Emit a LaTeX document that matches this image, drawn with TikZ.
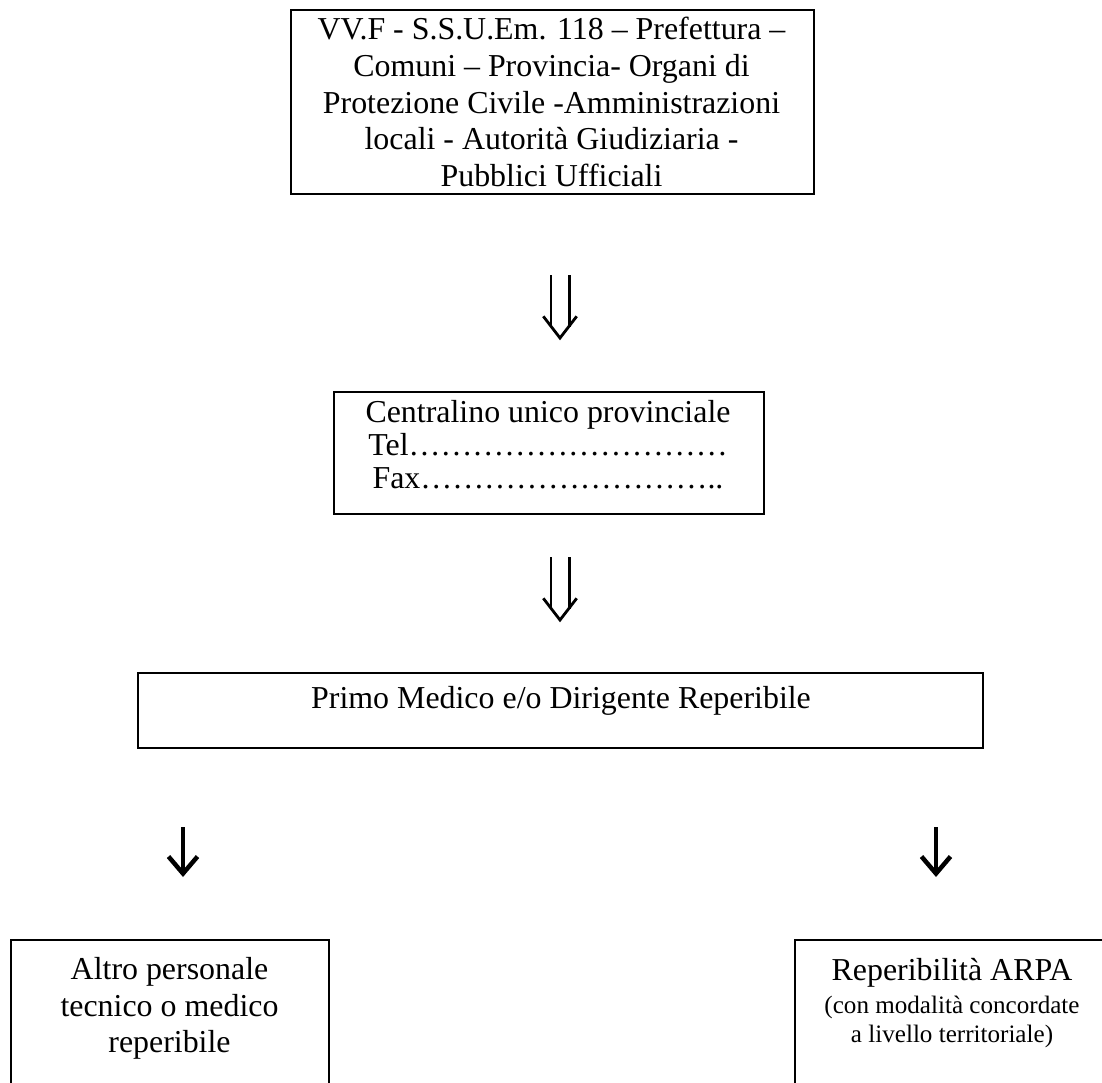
\documentclass[tikz,border=0pt]{standalone}
\usepackage{fontspec}
\setmainfont{Liberation Serif}
\usepackage{tikz}
\usetikzlibrary{arrows.meta,calc}
\newcommand{\bigtxt}{\fontsize{31.9}{36.75}\selectfont}
\newcommand{\smalltxt}{\fontsize{25.1}{29}\selectfont}
\tikzset{
  box/.style={rectangle,draw=black,line width=2.2pt,inner sep=0pt,
    anchor=north west},
  boxtext/.style={align=center,inner sep=0pt,anchor=north,font=\bigtxt},
  % double arrow: two stems and an open head
  dblstem/.style={double,double distance=15.4pt,line width=2.8pt},
  dblhead/.style={line width=2.8pt,line join=miter},
  sarrow/.style={line width=3.3pt,
    -{Straight Barb[length=17pt,width=29pt,line width=4.5pt]}}
}

\begin{document}
\begin{tikzpicture}[x=1pt,y=-1pt]
  \clip (0,0) rectangle (1102,1083);
  \node[box,minimum width=523pt,minimum height=184pt] (enti) at (290,9) {};
  \node[boxtext] (entitxt) at (551.5,17) {VV.F - S.S.U.Em. 118 – Prefettura –\\
    Comuni – Provincia- Organi di\\ Protezione Civile -Amministrazioni\\
    locali - Autorità Giudiziaria -\\ Pubblici Ufficiali};
  \node[box,minimum width=430pt,minimum height=122pt] (centr) at (333,391) {};
  \node[boxtext,font=\fontsize{31.9}{33.3}\selectfont] (centrtxt) at (548,400)
    {Centralino unico provinciale\\ Tel…………………………\\ Fax………………………..};
  \node[box,minimum width=845pt,minimum height=75pt] (primo) at (137,672) {};
  \node[boxtext] (primotxt) at (561,686) {Primo Medico e/o Dirigente Reperibile};
  \node[box,minimum width=318pt,minimum height=200pt] (altro) at (10,939) {};
  \node[boxtext] (altrotxt) at (169.5,957) {Altro personale\\ tecnico o medico\\ reperibile};
  \node[box,minimum width=316pt,minimum height=200pt] (arpa) at (794,939) {};
  \node[boxtext,font=\smalltxt] (arpatxt) at (952,958)
    {{\bigtxt Reperibilità ARPA}\\[4pt] (con modalità concordate\\ a livello territoriale)};

  \coordinate (d1top) at (560,275);
  \coordinate (d1end) at (560,327);
  \coordinate (d1tip) at (560,338);
  \draw[dblstem] (d1top) -- (d1end);
  \draw[dblhead] ($(d1tip)+(-16.7,-21.7)$) -- (d1tip) -- ($(d1tip)+(16.7,-21.7)$);
  \coordinate (d2top) at (560,557);
  \coordinate (d2end) at (560,609);
  \coordinate (d2tip) at (560,620);
  \draw[dblstem] (d2top) -- (d2end);
  \draw[dblhead] ($(d2tip)+(-16.7,-21.7)$) -- (d2tip) -- ($(d2tip)+(16.7,-21.7)$);

  \coordinate (s1top) at (183,827);
  \coordinate (s1tip) at (183,877);
  \draw[sarrow] (s1top) -- (s1tip);
  \coordinate (s2top) at (936,827);
  \coordinate (s2tip) at (936,877);
  \draw[sarrow] (s2top) -- (s2tip);
\end{tikzpicture}
\end{document}
